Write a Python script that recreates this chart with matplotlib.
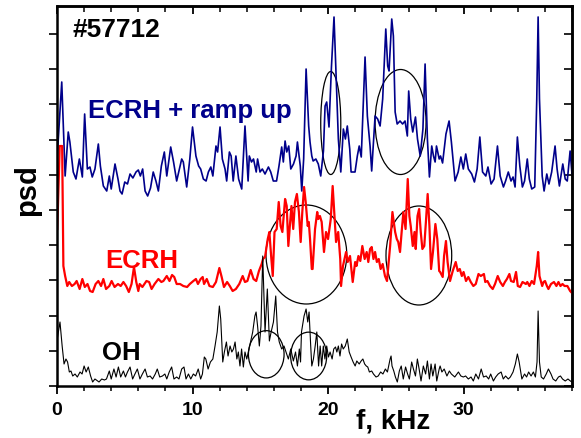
import numpy as np
import matplotlib
matplotlib.use("Agg")
import matplotlib.pyplot as plt
from matplotlib.patches import Ellipse
from matplotlib.ticker import MultipleLocator, FixedLocator

plt.rcParams['font.family'] = ['Liberation Sans', 'DejaVu Sans']

# ---- data (f in kHz, psd in arbitrary offset units) ----
ecrh_ramp = [
(0.02,230),(0.35,304),(0.6,210),(0.83,254),(0.95,244),(1.2,214),(1.4,207),(1.65,227),(1.87,209),(2.04,272),
(2.24,217),(2.43,219),(2.6,209),(2.8,217),(3.05,242),(3.2,220),(3.42,200),(3.67,195),(3.86,210),(4.0,197),
(4.28,222),(4.5,207),(4.65,195),(4.8,192),(5.0,204),(5.2,202),(5.39,212),(5.6,208),(5.83,214),(6.0,216),
(6.15,210),(6.32,217),(6.5,195),(6.69,190),(6.9,198),(7.1,214),(7.3,205),(7.48,195),(7.7,220),(7.92,234),
(8.1,210),(8.39,239),(8.6,224),(8.83,205),(9.2,227),(9.32,224),(9.57,199),(9.8,227),(10.0,259),(10.25,230),
(10.45,220),(10.6,217),(10.8,207),(11.0,205),(11.17,214),(11.35,219),(11.5,210),(11.73,240),(11.85,234),(12.03,259),
(12.2,227),(12.4,217),(12.52,205),(12.72,234),(12.85,230),(13.0,205),(13.2,230),(13.4,207),(13.63,197),(13.87,260),
(14.1,205),(14.19,230),(14.35,224),(14.5,227),(14.7,214),(14.8,227),(14.98,214),(15.15,217),(15.35,212),(15.6,219),
(15.77,214),(15.96,205),(16.2,205),(16.38,220),(16.58,239),(16.7,224),(16.83,245),(16.95,234),(17.1,240),(17.25,217),
(17.45,222),(17.64,230),(17.74,244),(17.95,220),(18.06,195),(18.2,227),(18.38,317),(18.57,260),(18.67,244),(18.8,230),
(18.9,225),(19.1,227),(19.28,222),(19.46,210),(19.66,235),(19.78,280),(19.9,284),(20.07,259),(20.25,319),(20.44,369),
(20.6,307),(20.76,247),(20.94,214),(21.13,257),(21.28,247),(21.42,260),(21.6,237),(21.7,214),(21.99,214),(22.16,230),
(22.3,240),(22.45,229),(22.73,329),(22.9,270),(23.1,240),(23.22,215),(23.47,270),(23.66,267),(23.84,260),(24.03,287),
(24.26,357),(24.4,320),(24.5,315),(24.7,367),(24.82,350),(24.95,274),(25.1,262),(25.31,265),(25.5,262),(25.68,265),
(25.85,250),(25.95,295),(26.1,267),(26.25,254),(26.45,269),(26.6,247),(26.8,230),(27.0,257),(27.16,322),(27.33,247),
(27.48,209),(27.65,240),(27.78,230),(27.9,224),(28.0,240),(28.2,227),(28.3,230),(28.45,223),(28.7,252),(28.93,265),
(29.1,244),(29.37,205),(29.6,214),(29.8,229),(29.98,217),(30.16,232),(30.35,217),(30.6,212),(30.8,204),(31.0,217),
(31.2,249),(31.4,214),(31.64,210),(31.8,219),(32.03,202),(32.25,207),(32.5,240),(32.7,210),(32.94,199),(33.1,205),
(33.3,214),(33.5,205),(33.65,209),(33.8,199),(33.97,249),(34.15,220),(34.34,199),(34.5,205),(34.7,227),(34.85,207),
(35.03,197),(35.25,199),(35.4,287),(35.5,369),(35.6,287),(35.8,210),(35.94,195),(36.14,212),(36.3,202),(36.5,214),
(36.75,240),(36.9,217),(37.07,200),(37.32,222),(37.5,207),(37.65,205),(37.86,235),(38.0,212)]

ecrh = [
(0.02,157),(0.2,240),(0.38,240),(0.47,120),(0.6,110),(0.76,100),(0.9,104),(1.1,100),(1.3,102),(1.45,105),
(1.67,97),(1.87,107),(2.05,99),(2.25,102),(2.44,95),(2.63,94),(2.85,102),(3.05,105),(3.25,100),(3.42,107),
(3.62,97),(3.86,100),(4.03,105),(4.25,99),(4.5,102),(4.7,100),(4.9,104),(5.1,100),(5.3,94),(5.5,102),
(5.68,119),(5.85,104),(6.0,95),(6.1,102),(6.3,99),(6.6,105),(6.8,104),(6.98,97),(7.2,102),(7.48,107),
(7.7,104),(7.85,105),(8.1,110),(8.3,105),(8.49,111),(8.65,109),(8.83,102),(9.08,102),(9.32,100),(9.6,99),
(9.8,102),(10.06,105),(10.25,107),(10.4,102),(10.6,107),(10.75,109),(10.85,102),(11.05,107),(11.25,100),(11.5,99),
(11.73,104),(11.98,118),(12.15,109),(12.32,99),(12.55,104),(12.75,100),(12.96,95),(13.2,97),(13.45,102),(13.7,110),
(13.87,104),(14.05,105),(14.29,116),(14.5,107),(14.7,105),(14.9,115),(15.1,122),(15.2,127),(15.35,129),(15.55,147),
(15.67,154),(15.8,130),(15.92,110),(16.05,154),(16.21,157),(16.36,184),(16.5,160),(16.63,154),(16.83,187),(16.95,180),
(17.07,140),(17.18,160),(17.3,180),(17.43,157),(17.56,184),(17.7,192),(17.85,174),(17.98,144),(18.1,174),(18.23,199),
(18.35,184),(18.5,160),(18.58,164),(18.67,147),(18.8,117),(18.86,117),(19.04,157),(19.2,174),(19.28,167),(19.4,170),
(19.53,164),(19.7,134),(19.85,154),(20.0,147),(20.2,167),(20.34,200),(20.47,170),(20.59,144),(20.75,154),(20.9,127),
(20.96,100),(21.1,120),(21.33,134),(21.45,124),(21.62,130),(21.82,104),(22.0,124),(22.1,120),(22.24,130),(22.38,125),
(22.53,140),(22.7,127),(22.85,134),(22.97,124),(23.1,137),(23.22,139),(23.35,127),(23.47,134),(23.6,124),(23.74,127),
(23.88,117),(24.03,122),(24.2,110),(24.35,105),(24.58,140),(24.75,174),(24.95,154),(25.07,147),(25.18,144),(25.31,134),
(25.43,154),(25.56,174),(25.72,157),(25.88,207),(26.0,170),(26.1,160),(26.25,140),(26.38,154),(26.47,137),(26.6,170),
(26.72,177),(26.84,154),(26.96,137),(27.1,140),(27.22,164),(27.35,192),(27.48,160),(27.6,117),(27.74,134),(27.92,162),
(28.06,147),(28.2,115),(28.27,114),(28.46,109),(28.56,130),(28.7,145),(28.82,124),(29.0,105),(29.2,115),(29.42,124),
(29.57,115),(29.72,117),(29.87,110),(30.0,114),(30.18,105),(30.35,109),(30.53,104),(30.72,100),(30.9,102),(31.1,112),
(31.27,110),(31.5,112),(31.6,104),(31.76,105),(31.95,100),(32.15,97),(32.32,102),(32.52,110),(32.7,104),(32.9,100),
(33.05,104),(33.2,107),(33.38,112),(33.5,105),(33.7,104),(33.87,114),(34.0,100),(34.17,99),(34.35,104),(34.6,102),
(34.7,104),(34.86,100),(35.03,105),(35.2,102),(35.4,120),(35.5,134),(35.6,110),(35.8,100),(35.9,104),(36.01,105),
(36.15,100),(36.26,97),(36.45,102),(36.67,104),(36.85,100),(37.0,104),(37.15,100),(37.3,102),(37.45,100),(37.66,100),
(37.86,95),(38.0,93)]

oh = [
(0.02,47),(0.22,64),(0.38,40),(0.52,22),(0.66,27),(0.78,24),(0.91,14),(1.03,15),(1.16,10),(1.33,12),
(1.5,9),(1.7,14),(1.85,12),(2.0,20),(2.15,14),(2.31,19),(2.48,10),(2.63,4),(2.8,7),(3.1,4),
(3.3,7),(3.5,6),(3.65,7),(3.86,15),(4.0,7),(4.2,17),(4.36,9),(4.53,19),(4.7,9),(4.9,15),
(5.05,9),(5.2,14),(5.39,19),(5.58,7),(5.75,12),(5.93,17),(6.12,7),(6.3,12),(6.5,17),(6.67,9),
(6.87,10),(7.05,7),(7.25,12),(7.4,17),(7.58,9),(7.78,10),(7.96,12),(8.1,7),(8.28,14),(8.46,19),
(8.63,7),(8.83,9),(9.0,7),(9.2,17),(9.37,19),(9.52,7),(9.7,12),(9.87,7),(10.06,12),(10.23,10),
(10.42,17),(10.6,7),(10.73,12),(10.87,29),(10.98,27),(11.15,17),(11.32,24),(11.5,27),(11.66,40),(11.82,54),
(11.98,80),(12.08,67),(12.23,24),(12.35,34),(12.5,44),(12.62,30),(12.77,40),(12.9,34),(13.02,37),(13.14,44),
(13.27,27),(13.38,34),(13.5,20),(13.62,37),(13.75,19),(13.87,34),(14.0,27),(14.12,34),(14.28,44),(14.44,54),
(14.6,70),(14.69,74),(14.8,60),(14.93,40),(15.05,60),(15.18,130),(15.35,54),(15.52,97),(15.67,45),(15.8,54),
(15.97,64),(16.14,90),(16.27,54),(16.4,44),(16.58,37),(16.75,40),(16.9,34),(17.07,27),(17.25,37),(17.44,25),
(17.6,34),(17.74,20),(17.88,37),(17.97,24),(18.04,54),(18.23,70),(18.38,77),(18.5,64),(18.6,74),(18.72,40),
(18.8,20),(18.92,27),(19.05,40),(19.17,54),(19.3,20),(19.42,40),(19.53,20),(19.65,40),(19.77,27),(19.9,40),
(20.03,29),(20.15,34),(20.3,27),(20.42,37),(20.55,39),(20.65,34),(20.76,40),(20.88,30),(21.0,42),(21.12,37),
(21.27,40),(21.42,47),(21.56,34),(21.7,29),(21.85,24),(22.0,20),(22.12,25),(22.3,22),(22.44,25),(22.57,27),
(22.7,22),(22.82,20),(22.93,19),(23.05,14),(23.22,15),(23.35,12),(23.54,9),(23.7,10),(23.88,14),(24.05,12),
(24.23,17),(24.38,14),(24.58,27),(24.65,30),(24.72,20),(24.85,15),(24.97,9),(25.11,4),(25.26,15),(25.4,20),
(25.55,7),(25.72,19),(25.87,12),(26.0,7),(26.17,24),(26.3,17),(26.45,10),(26.59,27),(26.72,17),(26.86,5),
(27.03,20),(27.2,12),(27.33,25),(27.48,7),(27.6,22),(27.73,10),(27.9,22),(28.02,5),(28.2,17),(28.27,20),
(28.4,14),(28.57,17),(28.77,10),(28.95,15),(29.1,12),(29.35,9),(29.62,14),(29.8,10),(29.98,9),(30.15,10),
(30.35,7),(30.55,9),(30.72,5),(30.9,12),(31.1,7),(31.3,17),(31.47,9),(31.67,10),(31.85,7),(32.0,12),
(32.2,5),(32.37,9),(32.55,12),(32.77,14),(32.93,7),(33.1,10),(33.3,7),(33.45,9),(33.65,14),(33.82,22),
(33.97,32),(34.1,24),(34.3,7),(34.5,12),(34.65,9),(34.8,14),(34.98,10),(35.15,14),(35.3,9),(35.42,24),
(35.5,75),(35.6,24),(35.73,9),(35.9,7),(36.1,12),(36.26,17),(36.45,12),(36.6,7),(36.8,5),(37.0,9),
(37.15,10),(37.3,7),(37.5,5),(37.7,7),(37.88,5),(38.0,4)]

# annotation ellipses: (center f, center psd, width kHz, height psd)
ellipses = [(20.2, 263, 1.48, 103), (25.35, 264, 3.76, 105),
            (18.4, 131.5, 5.96, 99), (26.7, 130.5, 4.85, 99),
            (15.44, 31.7, 2.63, 47.3), (18.57, 30.0, 2.66, 47.7)]

x_major = [0, 10, 20, 30]
y_tick_step = 35.2

fig = plt.figure(figsize=(5.81, 4.39), dpi=100)
ax = fig.add_axes([57/581, 1-387/439, 515/581, 380/439])

for data, col, lw in [(ecrh_ramp, '#00008B', 1.2), (ecrh, '#FF0000', 1.6), (oh, 'black', 0.8)]:
    arr = np.array(data)
    ax.plot(arr[:, 0], arr[:, 1], color=col, lw=lw, solid_joinstyle='round')

for cx, cy, w, h in ellipses:
    ax.add_patch(Ellipse((cx, cy), w, h, fill=False, ec='black', lw=0.9))

ax.set_xlim(0, 38)
ax.set_ylim(0, 380)

ax.xaxis.set_major_locator(FixedLocator(x_major))
ax.xaxis.set_minor_locator(MultipleLocator(2))
ax.yaxis.set_major_locator(MultipleLocator(y_tick_step))
ax.set_yticklabels([])
ax.set_xticklabels([str(v) for v in x_major], fontsize=14, fontweight='bold')

for s in ax.spines.values():
    s.set_linewidth(1.8)

ax.tick_params(axis='x', which='major', direction='out', length=6, width=1.3, pad=5, top=False)
ax.tick_params(axis='x', which='minor', direction='out', length=3.5, width=1.1, top=False)
ax.tick_params(axis='y', which='major', direction='out', length=6, width=1.2, right=False)

# mirrored inner ticks on top and right
axt = ax.secondary_xaxis('top')
axt.xaxis.set_major_locator(FixedLocator(x_major))
axt.xaxis.set_minor_locator(MultipleLocator(2))
axt.tick_params(which='major', direction='in', length=6, width=1.3, labeltop=False)
axt.tick_params(which='minor', direction='in', length=4, width=1.1)
axt.spines['top'].set_linewidth(1.8)
axr = ax.secondary_yaxis('right')
axr.yaxis.set_major_locator(MultipleLocator(y_tick_step))
axr.tick_params(direction='in', length=6, width=1.2, labelright=False)
axr.spines['right'].set_linewidth(1.8)

ax.text(1.18, 350, '#57712', fontsize=19, fontweight='bold', ha='left', va='baseline')
ax.text(2.29, 269, 'ECRH + ramp up', fontsize=18.5, fontweight='bold', color='#00008B', ha='left', va='baseline')
ax.text(3.54, 119, 'ECRH', fontsize=18.5, fontweight='bold', color='#FF0000', ha='left', va='baseline')
ax.text(3.32, 27, 'OH', fontsize=18.5, fontweight='bold', color='black', ha='left', va='baseline')

ax.text(0.652, -0.1105, 'f, kHz', transform=ax.transAxes, fontsize=20, fontweight='bold', ha='center', va='baseline')
ax.text(-0.0573, 0.518, 'psd', transform=ax.transAxes, fontsize=21, fontweight='bold', rotation=90, ha='center', va='center')

fig.savefig('out.png', dpi=100)
